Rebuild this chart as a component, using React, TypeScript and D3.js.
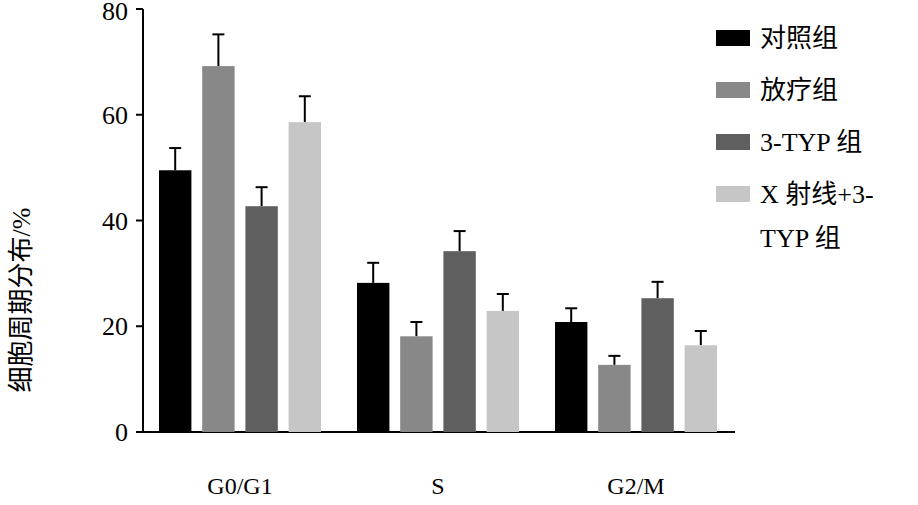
import * as d3 from 'd3'

const categories = ['G0/G1', 'S', 'G2/M']
const groups = ['对照组', '放疗组', '3-TYP 组', 'X 射线+3-TYP 组']
const legendLines = [['对照组'], ['放疗组'], ['3-TYP 组'], ['X 射线+3-', 'TYP 组']]
const means = [
  [49.5, 69.2, 42.7, 58.6],
  [28.2, 18.1, 34.2, 22.9],
  [20.8, 12.7, 25.3, 16.4],
]
const errors = [
  [4.2, 6.0, 3.6, 4.9],
  [3.8, 2.7, 3.8, 3.2],
  [2.6, 1.7, 3.1, 2.7],
]
const colors = ['#000000', '#888888', '#5f5f5f', '#c6c6c6']
const yTicks = [0, 20, 40, 60, 80]

const font = "'Liberation Serif', 'Noto Sans CJK SC', serif"

export default function App() {
  const width = 918
  const height = 505
  const y = d3.scaleLinear().domain([0, 80]).range([432, 9])
  const x0 = d3.scaleBand().domain(categories).range([141, 735])
  const x1 = d3.scaleBand().domain(groups).range([18, 180]).paddingInner(0.25)

  return (
    <svg width={width} height={height} style={{ position: 'absolute', left: 0, top: 0, background: '#fff', fontFamily: font }}>
      {/* axes */}
      <line x1={143} x2={143} y1={y(80)} y2={y(0)} stroke="#000" strokeWidth={2} />
      <line x1={143} x2={735} y1={y(0)} y2={y(0)} stroke="#000" strokeWidth={2} />
      {yTicks.map(t => (
        <g key={t}>
          <line x1={136} x2={143} y1={y(t)} y2={y(t)} stroke="#000" strokeWidth={2} />
          <text x={128} y={t === 80 ? y(t) + 2 : y(t)} dy="0.35em" textAnchor="end" fontSize={26}>{t}</text>
        </g>
      ))}
      <text transform="translate(30,300) rotate(-90)" textAnchor="middle" fontSize={26}>细胞周期分布/%</text>

      {categories.map((c, i) => (
        <g key={c} transform={`translate(${x0(c)},0)`}>
          {groups.map((gName, j) => {
            const bx = x1(gName)!
            const bw = x1.bandwidth()
            const cx = bx + bw / 2
            const top = y(means[i][j])
            const et = y(means[i][j] + errors[i][j])
            return (
              <g key={gName}>
                <line x1={cx} x2={cx} y1={top} y2={et} stroke="#000" strokeWidth={2} />
                <line x1={cx - 6} x2={cx + 6} y1={et} y2={et} stroke="#000" strokeWidth={2} />
                <rect x={bx} y={top} width={bw} height={y(0) - top} fill={colors[j]} />
              </g>
            )
          })}
          <text x={x0.bandwidth() / 2} y={494} textAnchor="middle" fontSize={24}>{c}</text>
        </g>
      ))}

      {groups.map((gName, j) => (
        <g key={gName} transform={`translate(716,${38 + j * 52})`}>
          <rect x={0} y={-8} width={34} height={16} fill={colors[j]} />
          {legendLines[j].map((l, k) => (
            <text key={k} x={44} y={k * 44} dy="0.35em" fontSize={26}>{l}</text>
          ))}
        </g>
      ))}
    </svg>
  )
}
